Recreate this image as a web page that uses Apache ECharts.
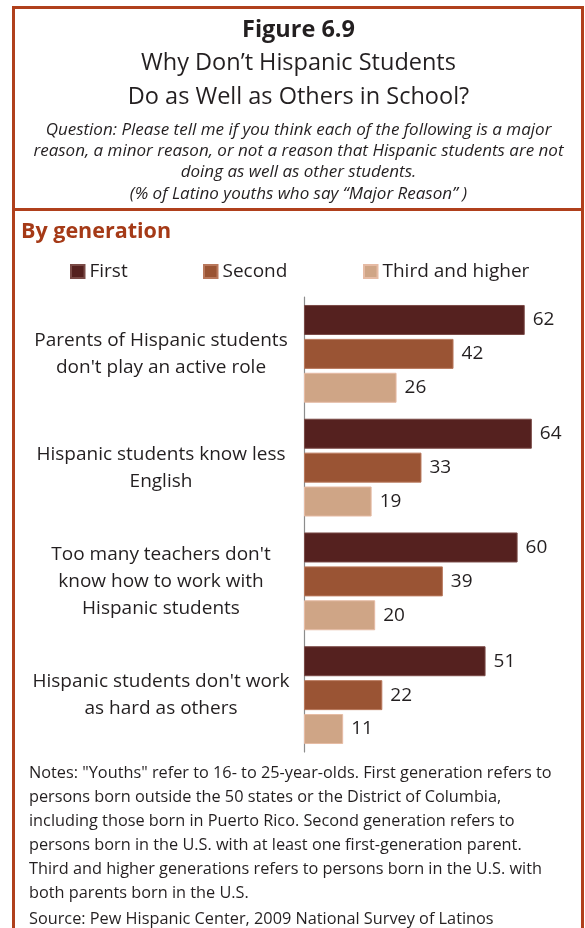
<!DOCTYPE html>
<html>
<head>
<meta charset="utf-8">
<script src="https://cdn.jsdelivr.net/npm/echarts@6/dist/echarts.min.js"></script>
<style>
  html, body { margin: 0; padding: 0; background: #fff; }
  #chart { width: 585px; height: 928px; }
</style>
</head>
<body>
<div id="chart"></div>
<script>
// Survey items (one per group of bars), top to bottom
const categories = [
  "Parents of Hispanic students\ndon't play an active role",
  "Hispanic students know less\nEnglish",
  "Too many teachers don't\nknow how to work with\nHispanic students",
  "Hispanic students don't work\nas hard as others"
];
// % saying "Major Reason", by generation
const seriesNames = ["First", "Second", "Third and higher"];
const firstGen = [62, 64, 60, 51];
const secondGen = [42, 33, 39, 22];
const thirdGen = [26, 19, 20, 11];

const FONT = "'Open Sans', 'Noto Sans', sans-serif";
const TEXT = "#231f20";
const FRAME = "#b0401c";
const colors = ["#55211f", "#9a5434", "#cfa586"];
const borders = ["#7a4a46", "#b9785c", "#e6bba4"];

const notes = [
  'Notes: "Youths" refer to 16- to 25-year-olds. First generation refers to',
  'persons born outside the 50 states or the District of Columbia,',
  'including those born in Puerto Rico. Second generation refers to',
  'persons born in the U.S. with at least one first-generation parent.',
  'Third and higher generations refers to persons born in the U.S. with',
  'both parents born in the U.S.'
].join('\n');

const chart = echarts.init(document.getElementById('chart'), null, { renderer: 'canvas' });

const seriesData = [firstGen, secondGen, thirdGen];
const CX = 298.5;

function centered(text, y, size, extra) {
  return {
    type: 'text', x: CX, y: y, silent: true,
    style: Object.assign({
      text: text, fontFamily: FONT, fontSize: size, fill: TEXT,
      align: 'center', verticalAlign: 'middle'
    }, extra || {})
  };
}

chart.setOption({
  animation: false,
  backgroundColor: '#ffffff',
  textStyle: { fontFamily: FONT },
  title: [
    { text: 'By generation', left: 21, top: 221, padding: 0,
      textStyle: { fontFamily: FONT, fontSize: 21.5, fontWeight: 'bold', color: '#a53a17' } },
    { text: notes, left: 29, top: 761, padding: 0,
      textStyle: { fontFamily: FONT, fontSize: 16.3, fontWeight: 'normal', color: TEXT, lineHeight: 24 } },
    { text: 'Source: Pew Hispanic Center, 2009 National Survey of Latinos', left: 29, top: 907, padding: 0,
      textStyle: { fontFamily: FONT, fontSize: 16.3, fontWeight: 'normal', color: TEXT, lineHeight: 24 } }
  ],
  legend: seriesNames.map((name, i) => ({
    data: [name],
    left: [70, 203, 363][i],
    top: 262,
    icon: 'rect',
    itemWidth: 13.5,
    itemHeight: 13,
    itemGap: 4,
    padding: 0,
    selectedMode: false,
    textStyle: { fontFamily: FONT, fontSize: 19, color: TEXT }
  })),
  graphic: [
    // outer frame (open at the bottom) and the divider under the header
    { type: 'polyline', shape: { points: [[13.5, 930], [13.5, 7.5], [582.5, 7.5], [582.5, 930]] },
      style: { stroke: FRAME, lineWidth: 3, fill: null }, silent: true },
    { type: 'line', shape: { x1: 13.5, y1: 209.5, x2: 582.5, y2: 209.5 },
      style: { stroke: FRAME, lineWidth: 3 }, silent: true },
    // header text
    centered('Figure 6.9', 30, 23.5, { fontWeight: 'bold' }),
    centered('Why Don\u2019t Hispanic Students', 63, 23.5),
    centered('Do as Well as Others in School?', 97, 23.5),
    centered('Question: Please tell me if you think each of the following is a major', 130, 17, { fontStyle: 'italic' }),
    centered('reason, a minor reason, or not a reason that Hispanic students are not', 151, 17, { fontStyle: 'italic' }),
    centered('doing as well as other students.', 172, 17, { fontStyle: 'italic' }),
    centered('(% of Latino youths who say \u201cMajor Reason\u201d )', 194, 17, { fontStyle: 'italic' })
  ],
  grid: { left: 304, top: 297, width: 249.2, height: 455, containLabel: false },
  xAxis: {
    type: 'value', min: 0, max: 70, show: false
  },
  yAxis: {
    type: 'category',
    data: categories,
    inverse: true,
    axisLine: { show: true, lineStyle: { color: '#8c8c8c', width: 1.2 } },
    axisTick: { show: false },
    axisLabel: {
      margin: 143,
      align: 'center',
      fontFamily: FONT,
      fontSize: 19,
      lineHeight: 27,
      color: TEXT
    }
  },
  series: seriesData.map((data, i) => ({
    name: seriesNames[i],
    type: 'bar',
    data: data,
    barWidth: 30,
    barGap: '13%',
    itemStyle: { color: colors[i], borderColor: borders[i], borderWidth: 1 },
    label: {
      show: true,
      position: 'right',
      distance: 8,
      fontFamily: FONT,
      fontSize: 19,
      color: TEXT
    }
  }))
});
</script>
</body>
</html>
